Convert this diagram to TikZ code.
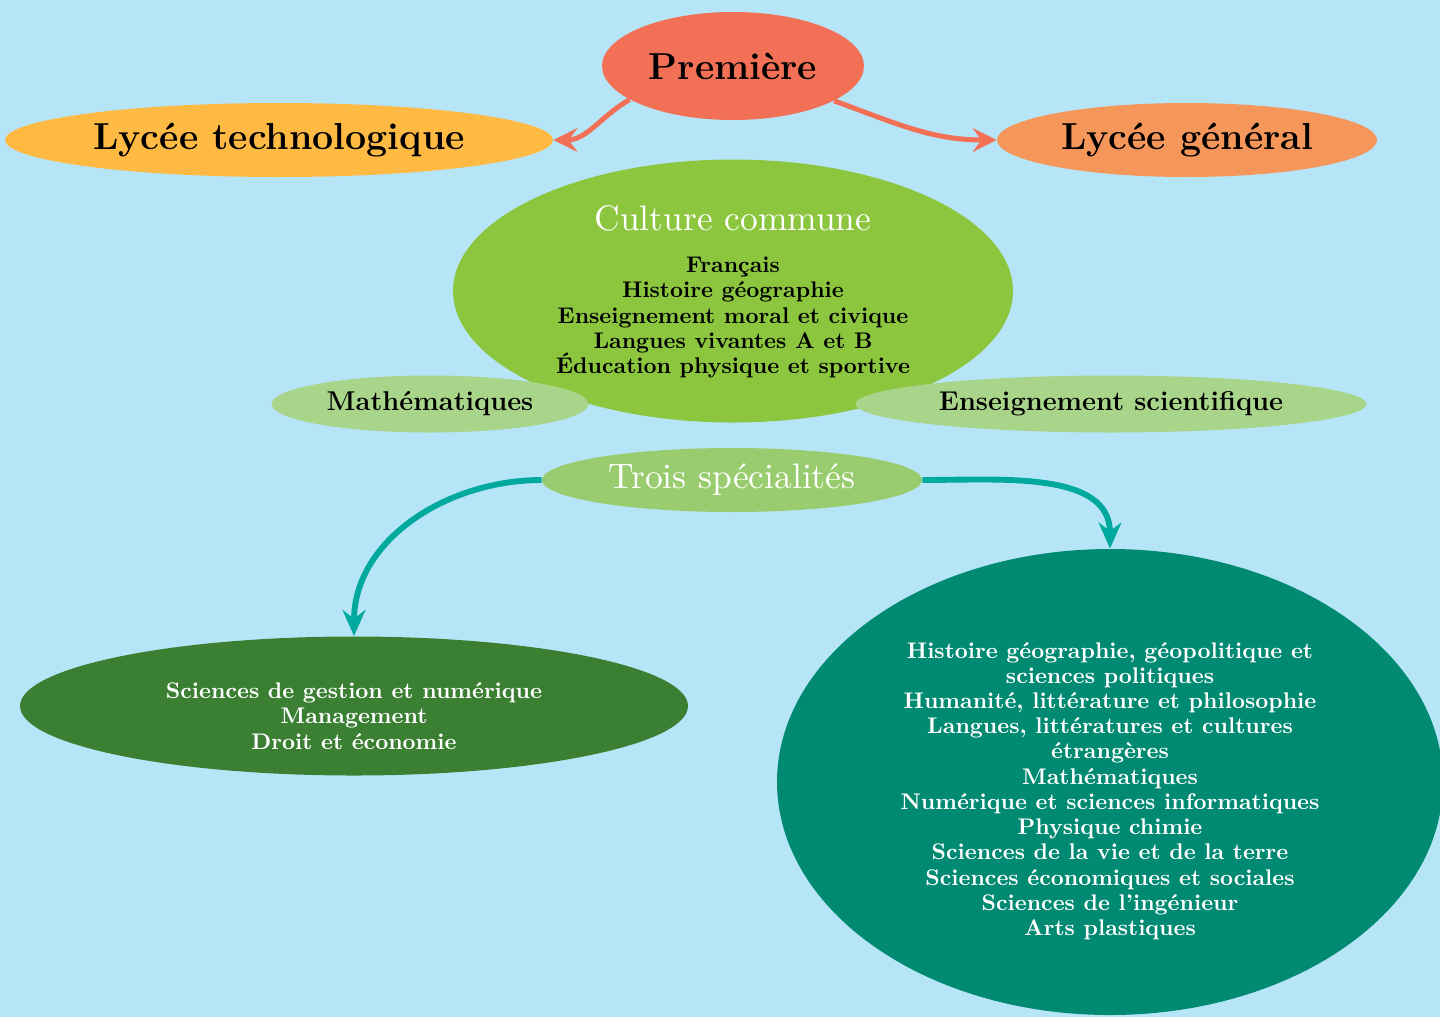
\documentclass[tikz,border=0pt]{standalone}
\usetikzlibrary{arrows.meta,shapes.geometric}
\definecolor{bgblue}{RGB}{183,229,248}
\definecolor{cprem}{RGB}{242,112,86}
\definecolor{ctech}{RGB}{255,186,68}
\definecolor{cgen}{RGB}{245,150,90}
\definecolor{cculture}{RGB}{140,198,63}
\definecolor{clight}{RGB}{169,213,139}
\definecolor{ctrois}{RGB}{153,204,110}
\definecolor{cteal}{RGB}{0,169,157}
\definecolor{cbl}{RGB}{59,127,51}
\definecolor{cbr}{RGB}{0,138,114}
\newcommand\pxu{0.46pt}
\font\headfont="[lmroman10-regular.otf]:mapping=tex-text" at 16.3pt
\tikzset{
  blob/.style={ellipse, inner sep=0pt, align=center},
  smalltext/.style={align=center, inner sep=0pt, font=\fontsize{10.4}{11.6}\selectfont\bfseries},
  orangearrow/.style={line width=2.3pt, draw=cprem, -{Stealth[length=11pt,width=11pt,inset=4pt]}},
  tealarrow/.style={line width=2.7pt, draw=cteal, -{Stealth[length=12pt,width=10.5pt,inset=4pt]}},
}
\begin{document}
\begin{tikzpicture}[x=0.46pt,y=-0.46pt]
\fill[bgblue] (0,0) rectangle (1440,1017);
\useasboundingbox (0,0) rectangle (1440,1017);

\node[blob, fill=cprem, minimum width={262*\pxu}, minimum height={108*\pxu}, font=\LARGE\bfseries] (prem) at (733,66) {Première};
\node[blob, fill=ctech, minimum width={548*\pxu}, minimum height={74*\pxu}, font=\LARGE\bfseries] (tech) at (279,140) {Lycée technologique};
\node[blob, fill=cgen, minimum width={380*\pxu}, minimum height={74*\pxu}, font=\LARGE\bfseries] (gen) at (1187,140) {Lycée général};

\node[blob, fill=cculture, minimum width={560*\pxu}, minimum height={263*\pxu}] (cult) at (733,291) {};
\node[smalltext] (culttext) at (733,291.5)
  {{\headfont\color{white}Culture commune}\\[8pt]
   Français\\ Histoire géographie\\ Enseignement moral et civique\\ Langues vivantes A et B\\ Éducation physique et sportive};

\node[blob, fill=clight, minimum width={317*\pxu}, minimum height={57*\pxu}, font=\fontsize{12.5}{15}\selectfont\bfseries] (math) at (430,404) {Mathématiques};
\node[blob, fill=clight, minimum width={511*\pxu}, minimum height={57*\pxu}, font=\fontsize{12.5}{15}\selectfont\bfseries] (ens) at (1111,404) {Enseignement scientifique};

\node[blob, fill=ctrois, minimum width={380*\pxu}, minimum height={64*\pxu}, font=\headfont, text=white] (trois) at (732,480) {Trois spécialités};

\node[blob, fill=cbl, minimum width={668*\pxu}, minimum height={139*\pxu}] (bl) at (354,706) {};
\node[smalltext, text=white] (bltext) at (354,716)
  {Sciences de gestion et numérique\\ Management\\ Droit et économie};

\node[blob, fill=cbr, minimum width={666*\pxu}, minimum height={466*\pxu}] (br) at (1110,782) {};
\node[smalltext, text=white] (brtext) at (1110,791)
  {Histoire géographie, géopolitique et\\ sciences politiques\\ Humanité, littérature et philosophie\\ Langues, littératures et cultures\\ étrangères\\ Mathématiques\\ Numérique et sciences informatiques\\ Physique chimie\\ Sciences de la vie et de la terre\\ Sciences économiques et sociales\\ Sciences de l'ingénieur\\ Arts plastiques};

\draw[orangearrow] (prem.198) to[out=210,in=0] (tech.east);
\draw[orangearrow] (prem.341) to[out=-20,in=180] (gen.west);

\draw[tealarrow] (trois.west) to[out=180,in=90] (bl.north);
\draw[tealarrow] (trois.east) to[out=0,in=90] (br.north);
\end{tikzpicture}
\end{document}
